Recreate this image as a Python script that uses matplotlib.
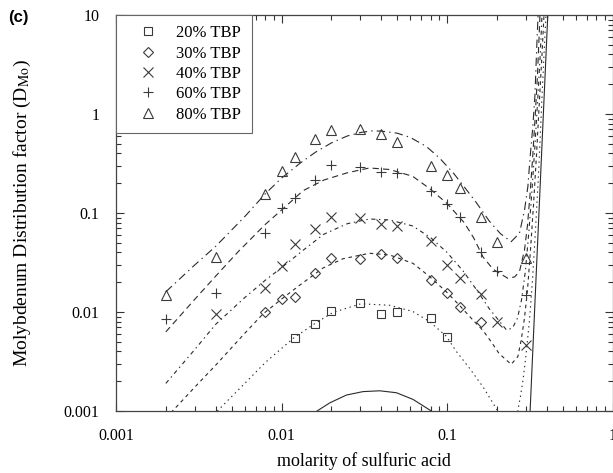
import matplotlib
matplotlib.use("Agg")
import matplotlib.pyplot as plt

plt.rcParams['font.family'] = ['Liberation Serif', 'DejaVu Serif']
plt.rcParams['mathtext.fontset'] = 'stix'
plt.rcParams['lines.scale_dashes'] = False

# measured points (molarity, D_Mo)
x_20 = [0.012, 0.016, 0.02, 0.03, 0.04, 0.05, 0.08, 0.1]
y_20 = [0.0055, 0.0076, 0.0102, 0.0123, 0.0095, 0.0100, 0.0087, 0.0056]

x_30 = [0.008, 0.01, 0.012, 0.016, 0.02, 0.03, 0.04, 0.05, 0.08, 0.1, 0.12, 0.16]
y_30 = [0.0099, 0.0135, 0.0143, 0.0246, 0.0353, 0.0343, 0.0383, 0.0349, 0.0211, 0.0157, 0.0112, 0.0079]

x_40 = [0.004, 0.008, 0.01, 0.012, 0.016, 0.02, 0.03, 0.04, 0.05, 0.08, 0.1, 0.12, 0.16, 0.2, 0.3]
y_40 = [0.0096, 0.0176, 0.0292, 0.0484, 0.0689, 0.0905, 0.088, 0.0774, 0.0744, 0.0525, 0.0298, 0.0222, 0.0152, 0.0080, 0.0046]

x_60 = [0.002, 0.004, 0.008, 0.01, 0.012, 0.016, 0.02, 0.03, 0.04, 0.05, 0.08, 0.1, 0.12, 0.16, 0.2, 0.3]
y_60 = [0.0085, 0.0157, 0.0624, 0.113, 0.141, 0.216, 0.305, 0.294, 0.261, 0.252, 0.167, 0.123, 0.0905, 0.0404, 0.0258, 0.0150]

x_80 = [0.002, 0.004, 0.008, 0.01, 0.012, 0.016, 0.02, 0.03, 0.04, 0.05, 0.08, 0.1, 0.12, 0.16, 0.2, 0.3]
y_80 = [0.0150, 0.0362, 0.155, 0.266, 0.371, 0.555, 0.689, 0.700, 0.624, 0.525, 0.299, 0.242, 0.180, 0.0918, 0.0506, 0.0349]

# model curves
fit_x_10 = [0.014, 0.0164, 0.0196, 0.0247, 0.0311, 0.0392, 0.0494, 0.0623, 0.0804, 0.09, 0.2, 0.3178, 0.4064]
fit_y_10 = [0.0008, 0.001, 0.00121, 0.00145, 0.00157, 0.0016, 0.00153, 0.00131, 0.001, 0.0008, 0.00005, 0.001, 10]

fit_x_20 = [0.002, 0.00424, 0.006, 0.008, 0.0119, 0.016, 0.0205, 0.0301, 0.045, 0.0623, 0.0785, 0.099, 0.1138,
            0.1369, 0.1647, 0.2028, 0.235, 0.2679, 0.2781, 0.2879, 0.3002, 0.3151, 0.3285, 0.3425, 0.3571, 0.3697,
            0.3828, 0.3963]
fit_y_20 = [0.00028, 0.00106, 0.0019, 0.0031, 0.0055, 0.0077, 0.0099, 0.0121, 0.0117, 0.0101, 0.0080, 0.0057, 0.0040,
            0.0027, 0.00176, 0.0010, 0.0006, 0.0010, 0.00142, 0.00206, 0.00368, 0.0083, 0.0210, 0.0673, 0.242, 0.870,
            3.13, 10]

fit_x_30 = [0.002, 0.00234, 0.003, 0.004, 0.006, 0.0077, 0.01, 0.0128, 0.0178, 0.0235, 0.034, 0.045, 0.0623, 0.0785,
            0.099, 0.12, 0.1433, 0.165, 0.185, 0.2065, 0.2443, 0.2679, 0.2808, 0.2939, 0.3065, 0.3195, 0.3331, 0.3473,
            0.3620, 0.3748, 0.3855]
fit_y_30 = [0.00085, 0.00112, 0.00175, 0.0029, 0.0061, 0.0095, 0.0135, 0.0185, 0.0278, 0.0345, 0.0392, 0.0377, 0.031,
            0.0228, 0.016, 0.0115, 0.0083, 0.0065, 0.0050, 0.0038, 0.00296, 0.00354, 0.00521, 0.00869, 0.0167, 0.0423,
            0.1205, 0.385, 1.385, 3.94, 10]

fit_x_40 = [0.002, 0.003, 0.004, 0.006, 0.008, 0.01, 0.0135, 0.018, 0.025, 0.034, 0.045, 0.062, 0.08, 0.1, 0.125,
            0.15, 0.18, 0.2289, 0.2488, 0.2668, 0.2819, 0.2981, 0.3130, 0.3263, 0.3401, 0.3546, 0.3671, 0.3748]
fit_y_40 = [0.0019, 0.0042, 0.0075, 0.014, 0.021, 0.028, 0.042, 0.061, 0.078, 0.087, 0.085, 0.074, 0.056, 0.040, 0.026,
            0.017, 0.0108, 0.00658, 0.00689, 0.00869, 0.0132, 0.0265, 0.0673, 0.171, 0.486, 1.556, 4.43, 10]

fit_x_60 = [0.002, 0.003, 0.004, 0.0055, 0.008, 0.01, 0.0135, 0.018, 0.025, 0.034, 0.045, 0.062, 0.078, 0.1, 0.127,
            0.145, 0.165, 0.19, 0.233, 0.256, 0.274, 0.294, 0.3065, 0.3173, 0.3285, 0.3401, 0.3522, 0.3645]
fit_y_60 = [0.0063, 0.0135, 0.023, 0.041, 0.077, 0.107, 0.168, 0.215, 0.255, 0.285, 0.275, 0.235, 0.178, 0.125, 0.080,
            0.056, 0.036, 0.027, 0.0219, 0.0226, 0.0255, 0.0423, 0.0757, 0.152, 0.343, 0.870, 2.48, 10]

fit_x_80 = [0.002, 0.003, 0.004, 0.006, 0.008, 0.01, 0.013, 0.016, 0.02, 0.025, 0.03, 0.035, 0.04, 0.05, 0.06, 0.075,
            0.09, 0.11, 0.13, 0.15, 0.18, 0.21, 0.244, 0.274, 0.294, 0.308, 0.318, 0.330, 0.340, 0.347, 0.355]
fit_y_80 = [0.016, 0.030, 0.046, 0.092, 0.157, 0.225, 0.32, 0.41, 0.51, 0.60, 0.65, 0.675, 0.672, 0.64, 0.58, 0.47,
            0.36, 0.25, 0.175, 0.128, 0.083, 0.062, 0.0513, 0.0624, 0.107, 0.184, 0.371, 0.745, 1.556, 3.94, 10]

labels = ['20% TBP', '30% TBP', '40% TBP', '60% TBP', '80% TBP']
x_ticks = [0.001, 0.01, 0.1, 1]
x_tick_labels = ['0.001', '0.01', '0.1', '1']
y_ticks = [0.001, 0.01, 0.1, 1, 10]
y_tick_labels = ['0.001', '0.01', '0.1', '1', '10']

W, H = 613, 473
fig = plt.figure(figsize=(W / 100, H / 100), dpi=100)
ax = fig.add_axes([116 / W, 62 / H, 496.5 / W, 396 / H])

lc = '#2a2a2a'
mc = '#3a3a3a'
lw = 0.8

ax.plot(fit_x_10, fit_y_10, color=lc, lw=lw, linestyle='-')
ax.plot(fit_x_20, fit_y_20, color=lc, lw=lw, linestyle=(0, (1, 2.6)))
ax.plot(fit_x_30, fit_y_30, color=lc, lw=lw, linestyle=(0, (2.6, 2.6)))
ax.plot(fit_x_40, fit_y_40, color=lc, lw=lw, linestyle=(0, (3, 2.6, 1, 2.6)))
ax.plot(fit_x_60, fit_y_60, color=lc, lw=lw, linestyle=(0, (4.5, 3)))
ax.plot(fit_x_80, fit_y_80, color=lc, lw=lw, linestyle=(0, (6, 3, 1, 3)))

mk = dict(linestyle='none', markerfacecolor='none', markeredgecolor=mc, markeredgewidth=0.8)
ax.plot(x_20, y_20, marker='s', markersize=6, label=labels[0], **mk)
ax.plot(x_30, y_30, marker='D', markersize=5, label=labels[1], **mk)
ax.plot(x_40, y_40, marker='x', markersize=6.5, label=labels[2], **mk)
ax.plot(x_60, y_60, marker='+', markersize=7.5, label=labels[3], **mk)
ax.plot(x_80, y_80, marker='^', markersize=7, label=labels[4], **mk)

ax.set_xscale('log')
ax.set_yscale('log')
ax.set_xlim(0.001, 1)
ax.set_ylim(0.001, 10)
ax.set_xticks(x_ticks)
ax.set_xticklabels(x_tick_labels)
ax.set_yticks(y_ticks)
ax.set_yticklabels(y_tick_labels)

ax.tick_params(which='both', direction='in', top=True, right=True, colors='#333333', width=0.8)
ax.tick_params(which='major', length=6, pad=12, labelsize=11.5, labelcolor='black')
ax.tick_params(which='minor', length=3.5)
for s in ax.spines.values():
    s.set_color('#444444')
    s.set_linewidth(0.9)

ax.set_xlabel('molarity of sulfuric acid', fontsize=13, labelpad=6)
ax.set_ylabel(r'Molybdenum Distribution factor (D$_{\mathrm{Mo}}$)', fontsize=14, labelpad=22)

leg = ax.legend(loc='upper left', bbox_to_anchor=(0, 1), borderaxespad=0, fancybox=False,
                edgecolor='#666666', fontsize=12, handlelength=2.6, handletextpad=0.4,
                labelspacing=0.26, borderpad=0.62, framealpha=1)
leg.get_frame().set_linewidth(0.8)

fig.text(0.014, 0.963, '(c)', fontsize=12, fontweight='bold', family=['Liberation Sans', 'DejaVu Sans'],
         va='center', ha='left')

fig.savefig('out.png', dpi=100)
